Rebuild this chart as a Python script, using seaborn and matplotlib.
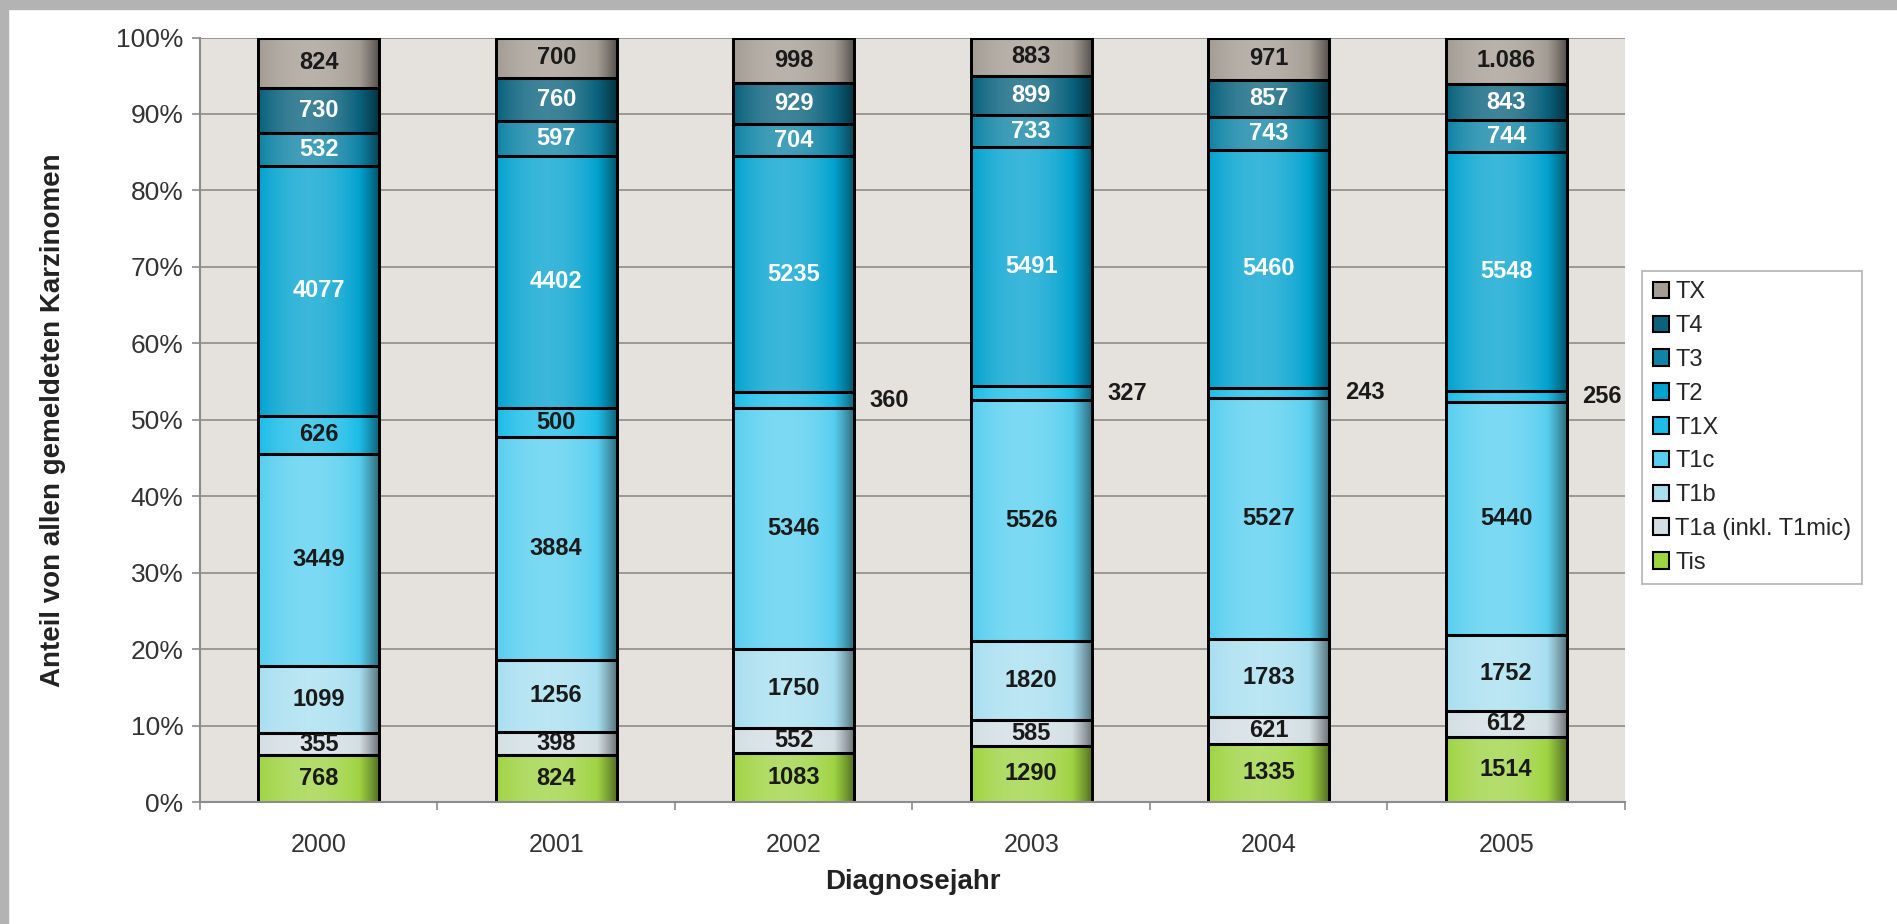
import matplotlib.pyplot as plt
import numpy as np
import pandas as pd
import seaborn as sns
from matplotlib.patches import Patch, Rectangle

# Stil und Schrift
sns.set_style("white")
plt.rcParams['font.family'] = ['Liberation Sans', 'DejaVu Sans']

# Daten: Anzahl gemeldeter Karzinome je T-Stadium und Diagnosejahr
jahre = ["2000", "2001", "2002", "2003", "2004", "2005"]
stufen = ["Tis", "T1a (inkl. T1mic)", "T1b", "T1c", "T1X", "T2", "T3", "T4", "TX"]
tis = [768, 824, 1083, 1290, 1335, 1514]
t1a = [355, 398, 552, 585, 621, 612]
t1b = [1099, 1256, 1750, 1820, 1783, 1752]
t1c = [3449, 3884, 5346, 5526, 5527, 5440]
t1x = [626, 500, 360, 327, 243, 256]
t2 = [4077, 4402, 5235, 5491, 5460, 5548]
t3 = [532, 597, 704, 733, 743, 744]
t4 = [730, 760, 929, 899, 857, 843]
tx = [824, 700, 998, 883, 971, 1086]

farben = ["#9fd443", "#d3dfe4", "#a8dff0", "#58cff0", "#1dbde8",
          "#03a3d0", "#0f84a6", "#0a627d", "#a59d94"]
textfarben = ["#1a1a1a"] * 5 + ["white"] * 3 + ["#1a1a1a"]

werte = pd.DataFrame([tis, t1a, t1b, t1c, t1x, t2, t3, t4, tx],
                     index=stufen, columns=jahre)
anteil = werte / werte.sum(axis=0) * 100
kum = anteil.cumsum(axis=0)

fig = plt.figure(figsize=(18.97, 9.24), dpi=100)
ax = fig.add_axes([0.1054, 0.132, 0.7512, 0.8274])
ax.set_facecolor("#e5e2de")

# gestapelte Balken: kumulierte Anteile von oben nach unten übermalen
breite = 0.51
for i in reversed(range(len(stufen))):
    d = pd.DataFrame({"Jahr": jahre, "wert": kum.iloc[i].values})
    sns.barplot(data=d, x="Jahr", y="wert", color=farben[i], saturation=1,
                width=breite, edgecolor="black", linewidth=2,
                errorbar=None, ax=ax)

# zylinderartiger Farbverlauf
t = np.linspace(0, 1, 120)
v = np.clip(1 - 2 * ((t - 0.42) / 0.58) ** 2, -1, 1)
grad = np.zeros((1, len(t), 4))
grad[0, v > 0, :3] = 1.0
grad[0, :, 3] = np.where(v > 0, 0.22 * v, 0.5 * (-v))

for j in range(len(jahre)):
    x0, x1 = j - breite / 2, j + breite / 2
    for i in range(len(stufen)):
        y0 = kum.iloc[i - 1, j] if i > 0 else 0
        y1 = kum.iloc[i, j]
        ax.imshow(grad, extent=(x0, x1, y0, y1), aspect="auto",
                  interpolation="bilinear", zorder=1.5)
    ax.hlines(kum.iloc[:, j].values, x0, x1, color="black", linewidth=2.2, zorder=2)
    ax.vlines([x0, x1], 0, 100, color="black", linewidth=2, zorder=2)

# Beschriftungen der Segmente
for j in range(len(jahre)):
    for i in range(len(stufen)):
        y0 = kum.iloc[i - 1, j] if i > 0 else 0
        mitte = (y0 + kum.iloc[i, j]) / 2
        n = werte.iloc[i, j]
        label = f"{n:,}".replace(",", ".") if stufen[i] == "TX" else str(n)
        if stufen[i] == "T1X" and anteil.iloc[i, j] < 3:
            ax.text(j + breite / 2 + 0.065, mitte, label, ha="left", va="center",
                    fontsize=17, fontweight="bold", color="#1a1a1a", zorder=3)
        else:
            ax.text(j, mitte, label, ha="center", va="center", fontsize=17,
                    fontweight="bold", color=textfarben[i], zorder=3)

ax.set_xlim(-0.5, len(jahre) - 0.5)
ax.set_ylim(0, 100)
ax.set_yticks(range(0, 101, 10))
ax.set_yticklabels([f"{p}%" for p in range(0, 101, 10)])
ax.yaxis.grid(True, color="#9c9893", linewidth=1.4)
ax.set_axisbelow(True)
for s in ["top", "right"]:
    ax.spines[s].set_visible(False)
for s in ["left", "bottom"]:
    ax.spines[s].set_color("#8c8c8c")
    ax.spines[s].set_linewidth(1.5)

ax.tick_params(axis="y", left=True, length=6, width=1.2, color="#8c8c8c",
               pad=6, labelsize=19, labelcolor="#333333")
ax.set_xticks(np.arange(-0.5, len(jahre), 1), minor=True)
ax.tick_params(axis="x", which="minor", bottom=True, length=6, width=1.2, color="#8c8c8c")
ax.tick_params(axis="x", which="major", bottom=False, pad=19, labelsize=18,
               labelcolor="#333333")

ax.set_xlabel("Diagnosejahr", fontsize=20, fontweight="bold", color="#222222")
ax.set_ylabel("Anteil von allen gemeldeten Karzinomen", fontsize=20,
              fontweight="bold", color="#222222")
ax.xaxis.set_label_coords(0.5, -0.088)
ax.yaxis.set_label_coords(-0.094, 0.5)

# Legende
handles = [Patch(facecolor=farben[i], edgecolor="black", linewidth=1.5, label=stufen[i])
           for i in reversed(range(len(stufen)))]
leg = fig.legend(handles=handles, loc="upper left", bbox_to_anchor=(0.8656, 0.707),
                 fontsize=17, frameon=True, fancybox=False, edgecolor="#a0a0a0",
                 handlelength=0.7, handleheight=0.7, handletextpad=0.25,
                 labelspacing=0.5, borderpad=0.45, borderaxespad=0)
leg.get_frame().set_linewidth(1.2)

# grauer Rand oben und links
fig.add_artist(Rectangle((0, 1 - 9 / 924), 1, 9 / 924, transform=fig.transFigure,
                         color="#b3b3b3", zorder=0))
fig.add_artist(Rectangle((0, 0), 8 / 1897, 1, transform=fig.transFigure,
                         color="#b3b3b3", zorder=0))

fig.savefig("out.png", dpi=100)
